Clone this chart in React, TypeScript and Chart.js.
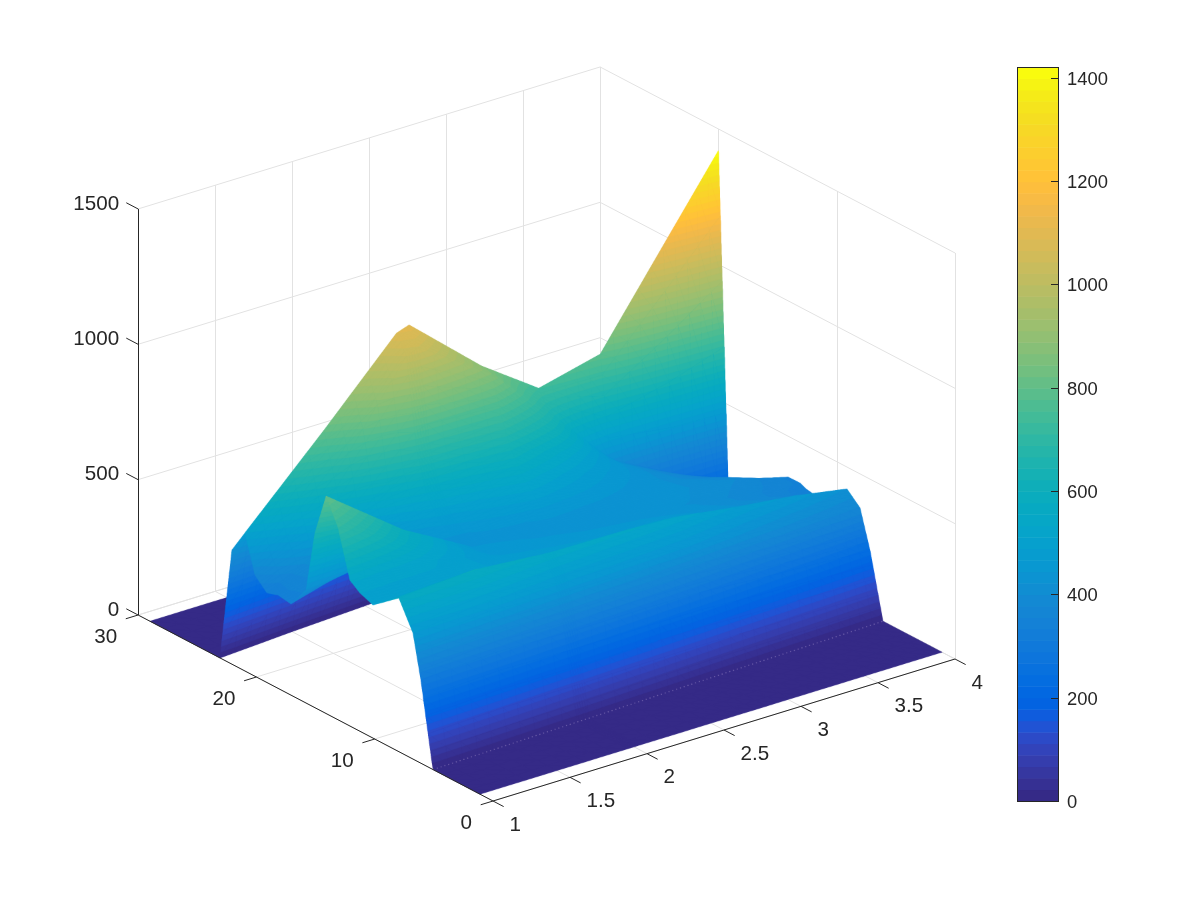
import React, { useEffect, useRef } from "react";
import { Chart, registerables } from "chart.js";

Chart.register(...registerables);

// ---------- data (surface sampled on a bent grid: one row of y / z per column of x) ----------
const xColumns = [1, 1.5, 1.96, 2.04, 2.5, 2.86, 3.25, 3.65, 4];

const yRows = [
  [1.1, 1.1, 1.1, 1.1, 1.1, 1.1, 1.1, 1.1, 1.1],
  [5.07, 5.24, 5.4, 5.42, 5.58, 5.72, 5.85, 5.97, 6.09],
  [6.09, 6.27, 6.44, 6.46, 6.64, 6.78, 6.93, 7.05, 7.18],
  [6.76, 6.97, 7.17, 7.19, 7.4, 7.56, 7.73, 7.88, 8.03],
  [7.95, 8.15, 8.33, 8.35, 8.54, 8.7, 8.86, 8.99, 9.13],
  [10.14, 10.2, 10.26, 10.27, 10.32, 10.37, 10.42, 10.46, 10.5],
  [11.24, 11.37, 11.48, 11.5, 11.62, 11.72, 11.82, 11.91, 12],
  [12.09, 12.18, 12.25, 12.27, 12.35, 12.41, 12.48, 12.54, 12.6],
  [13.1, 13.1, 13.1, 13.1, 13.1, 13.1, 13.1, 13.1, 13.1],
  [14.1, 14.1, 14.1, 14.1, 14.1, 14.1, 14.1, 14.1, 14.1],
  [15.05, 15.08, 15.1, 15.1, 15.13, 15.14, 15.17, 15.18, 15.2],
  [15.8, 15.83, 15.86, 15.87, 15.9, 15.93, 15.95, 15.98, 16],
  [17.08, 17.07, 17.05, 17.05, 17.04, 17.03, 17.02, 17.01, 17],
  [18.17, 18.14, 18.11, 18.11, 18.09, 18.06, 18.04, 18.02, 18],
  [19.1, 19.02, 18.94, 18.92, 18.85, 18.78, 18.72, 18.66, 18.6],
  [20.12, 19.96, 19.82, 19.8, 19.65, 19.53, 19.41, 19.3, 19.19],
  [20.96, 20.8, 20.65, 20.63, 20.48, 20.35, 20.22, 20.11, 20],
  [22.06, 21.88, 21.72, 21.7, 21.53, 21.39, 21.25, 21.12, 21],
  [23.08, 23.5, 23.82, 23.88, 24.2, 24.4, 24.6, 24.8, 25],
  [29, 29, 29, 29, 29, 29, 29, 29, 29],
];

const zRows = [
  [0, 0, 0, 0, 0, 0, 0, 0, 0],
  [0, 0, 0, 0, 0, 0, 0, 0, 0],
  [307, 318, 304, 302, 297, 289, 268, 252, 235],
  [466, 492, 470, 467, 458, 446, 415, 389, 374],
  [568, 579, 552, 549, 539, 525, 488, 458, 419],
  [492, 500, 482, 478, 470, 470, 440, 405, 375],
  [511, 510, 472, 468, 455, 445, 425, 385, 335],
  [539, 520, 462, 458, 445, 435, 420, 385, 340],
  [712, 560, 452, 449, 440, 435, 425, 390, 350],
  [803, 591, 446, 444, 438, 435, 430, 400, 349],
  [645, 520, 432, 432, 448, 445, 430, 385, 317],
  [417, 450, 440, 442, 490, 465, 430, 365, 295],
  [337, 420, 475, 485, 550, 495, 435, 345, 275],
  [345, 430, 550, 570, 630, 545, 435, 325, 255],
  [331, 480, 690, 705, 735, 610, 430, 310, 240],
  [374, 650, 1020, 1040, 866, 665, 425, 305, 229],
  [510, 805, 1087, 1104, 875, 733, 794, 1127, 1419],
  [422, 600, 790, 800, 650, 550, 600, 800, 1000],
  [0, 0, 0, 0, 0, 0, 0, 0, 0],
  [0, 0, 0, 0, 0, 0, 0, 0, 0],
];

const xTicks = [1, 1.5, 2, 2.5, 3, 3.5, 4];
const yTicks = [0, 10, 20, 30];
const zTicks = [0, 500, 1000, 1500];
const colorbarTicks = [0, 200, 400, 600, 800, 1000, 1200, 1400];
const colorMax = 1421;

const parula: number[][] = [
  [0.2081, 0.1663, 0.5292], [0.2116, 0.1898, 0.5777], [0.2123, 0.2138, 0.627], [0.2081, 0.2386, 0.6771],
  [0.1959, 0.2645, 0.7279], [0.1707, 0.2919, 0.7792], [0.1253, 0.3242, 0.8303], [0.0591, 0.3598, 0.8683],
  [0.0117, 0.3875, 0.882], [0.006, 0.4086, 0.8828], [0.0165, 0.4266, 0.8786], [0.0329, 0.443, 0.872],
  [0.0498, 0.4586, 0.8641], [0.0629, 0.4737, 0.8554], [0.0723, 0.4887, 0.8467], [0.0779, 0.504, 0.8384],
  [0.0793, 0.52, 0.8312], [0.0749, 0.5375, 0.8263], [0.0641, 0.557, 0.824], [0.0488, 0.5772, 0.8228],
  [0.0343, 0.5966, 0.8199], [0.0265, 0.6137, 0.8135], [0.0239, 0.6287, 0.8038], [0.0231, 0.6418, 0.7913],
  [0.0228, 0.6535, 0.7768], [0.0267, 0.6642, 0.7607], [0.0384, 0.6743, 0.7436], [0.059, 0.6838, 0.7254],
  [0.0843, 0.6928, 0.7062], [0.1133, 0.7015, 0.6859], [0.1453, 0.7098, 0.6646], [0.1801, 0.7177, 0.6424],
  [0.2178, 0.725, 0.6193], [0.2586, 0.7317, 0.5954], [0.3022, 0.7376, 0.5712], [0.3482, 0.7424, 0.5473],
  [0.3953, 0.7459, 0.5244], [0.442, 0.7481, 0.5033], [0.4871, 0.7491, 0.484], [0.53, 0.7491, 0.4661],
  [0.5709, 0.7485, 0.4494], [0.6099, 0.7473, 0.4337], [0.6473, 0.7456, 0.4188], [0.6834, 0.7435, 0.4044],
  [0.7184, 0.7411, 0.3905], [0.7525, 0.7384, 0.3768], [0.7858, 0.7356, 0.3633], [0.8185, 0.7327, 0.3498],
  [0.8507, 0.7299, 0.336], [0.8824, 0.7274, 0.3217], [0.9139, 0.7258, 0.3063], [0.945, 0.7261, 0.2886],
  [0.9739, 0.7314, 0.2666], [0.9938, 0.7455, 0.2403], [0.999, 0.7653, 0.2164], [0.9955, 0.7861, 0.1967],
  [0.988, 0.8066, 0.1794], [0.9789, 0.8271, 0.1633], [0.9697, 0.8481, 0.1475], [0.9626, 0.8705, 0.1309],
  [0.9589, 0.8949, 0.1132], [0.9598, 0.9218, 0.0948], [0.9661, 0.9514, 0.0755], [0.9763, 0.9831, 0.0538],
];

// ---------- view: orthographic projection onto a page-sized pair of linear scales ----------
const ORIGIN = { x: 493, y: 801 };
const EX = { x: 154, y: -47.33 }; // per x unit
const EY = { x: -11.83, y: -6.2 }; // per y unit
const EZ = -0.2707; // per z unit
const project = (x: number, y: number, z: number) => ({
  x: ORIGIN.x + (x - 1) * EX.x + y * EY.x,
  y: ORIGIN.y + (x - 1) * EX.y + y * EY.y + z * EZ,
});

const BAR = { left: 1017, right: 1058, top: 67, bottom: 801 };
const barY = (v: number) => BAR.bottom - (v / colorMax) * (BAR.bottom - BAR.top);

const rgbOf = (c: number[]) => `rgb(${Math.round(c[0] * 255)},${Math.round(c[1] * 255)},${Math.round(c[2] * 255)})`;

const GRID = "#e2e2e2";
const INK = "#262626";
const FONT_AXIS = '20.6px "Liberation Sans", Arial, sans-serif';
const FONT_BAR = '18.4px "Liberation Sans", Arial, sans-serif';

const lineDataset = (pts: { x: number; y: number }[], color: string, order: number) => {
  // verticals sit on the pixel grid so that they stay one pixel wide
  const vertical = Math.abs(pts[0].x - pts[1].x) < 0.01;
  const data = vertical ? pts.map((p) => ({ x: Math.round(p.x) + 0.5, y: p.y })) : pts;
  return {
    type: "line" as const,
    data,
    borderColor: color,
    borderWidth: 1,
    pointRadius: 0,
    order,
    fill: false,
    tension: 0,
  };
};

function buildLines() {
  const out: any[] = [];
  const g = (a: number[], b: number[]) =>
    out.push(lineDataset([project(a[0], a[1], a[2]), project(b[0], b[1], b[2])], GRID, 3));
  const zTop = zTicks[zTicks.length - 1];
  for (const x of xTicks) {
    g([x, 0, 0], [x, 30, 0]);
    g([x, 30, 0], [x, 30, zTop]);
  }
  for (const y of yTicks) {
    g([1, y, 0], [4, y, 0]);
    g([4, y, 0], [4, y, zTop]);
  }
  for (const z of zTicks) {
    g([1, 30, z], [4, 30, z]);
    g([4, 30, z], [4, 0, z]);
  }
  const a = (p: number[], q: number[]) =>
    out.push(lineDataset([project(p[0], p[1], p[2]), project(q[0], q[1], q[2])], INK, 1));
  a([1, 0, 0], [4, 0, 0]);
  a([1, 0, 0], [1, 30, 0]);
  a([1, 30, 0], [1, 30, zTop]);
  for (const x of xTicks) a([x, 0, 0], [x, -0.9, 0]);
  for (const y of yTicks) a([1, y, 0], [0.92, y, 0]);
  for (const z of zTicks) a([1, 30, z], [1, 31, z]);
  return out;
}

const surfacePoints = () => {
  const pts: any[] = [];
  yRows.forEach((row, r) =>
    row.forEach((y, c) => {
      const p = project(xColumns[c], y, zRows[r][c]);
      pts.push({ x: p.x, y: p.y, z: zRows[r][c] });
    })
  );
  return pts;
};

type V = { x: number; y: number; z: number };

// Keep the part of a polygon above a z level
const clipAbove = (poly: V[], level: number): V[] => {
  const out: V[] = [];
  for (let i = 0; i < poly.length; i++) {
    const p = poly[i];
    const q = poly[(i + 1) % poly.length];
    const pIn = p.z >= level;
    const qIn = q.z >= level;
    if (pIn) out.push(p);
    if (pIn !== qIn) {
      const t = (level - p.z) / (q.z - p.z);
      out.push({ x: p.x + (q.x - p.x) * t, y: p.y + (q.y - p.y) * t, z: level });
    }
  }
  return out;
};

const SUB = 5;
const SS = 3; // the sheet is painted oversampled and scaled down, which keeps facet joints invisible

const surfacePlugin = {
  id: "surfacePlugin",
  afterDatasetDraw(chart: any, args: any) {
    const ds = chart.data.datasets[args.index];
    if (!ds.isSurface) return;
    const sx = chart.scales.x;
    const sy = chart.scales.y;
    const nc = xColumns.length;
    const pts = ds.data;
    const at = (r: number, c: number) => pts[r * nc + c];
    const step = colorMax / 64;

    const off = document.createElement("canvas");
    off.width = chart.width * SS;
    off.height = chart.height * SS;
    const oc = off.getContext("2d") as CanvasRenderingContext2D;
    oc.scale(SS, SS);
    oc.lineWidth = 0.5;
    oc.lineJoin = "round";

    const paint = (tri: V[]) => {
      const zs = tri.map((p) => p.z);
      const lo = Math.max(0, Math.floor(Math.min(...zs) / step));
      const hi = Math.min(63, Math.floor(Math.max(...zs) / step));
      for (let i = lo; i <= hi; i++) {
        const poly = i === lo ? tri : clipAbove(tri, i * step);
        if (poly.length < 3) continue;
        const col = rgbOf(parula[i]);
        oc.fillStyle = col;
        oc.strokeStyle = col;
        oc.beginPath();
        poly.forEach((p, k) => {
          const px = sx.getPixelForValue(p.x);
          const py = sy.getPixelForValue(p.y);
          if (k === 0) oc.moveTo(px, py);
          else oc.lineTo(px, py);
        });
        oc.closePath();
        oc.fill();
        oc.stroke();
      }
    };

    for (let r = yRows.length - 2; r >= 0; r--) {
      for (let c = nc - 2; c >= 0; c--) {
        const a = at(r, c), b = at(r, c + 1), d = at(r + 1, c), e = at(r + 1, c + 1);
        const blend = (u: number, v: number): V => ({
          x: (1 - v) * ((1 - u) * a.x + u * b.x) + v * ((1 - u) * d.x + u * e.x),
          y: (1 - v) * ((1 - u) * a.y + u * b.y) + v * ((1 - u) * d.y + u * e.y),
          z: (1 - v) * ((1 - u) * a.z + u * b.z) + v * ((1 - u) * d.z + u * e.z),
        });
        for (let j = SUB - 1; j >= 0; j--) {
          for (let i = SUB - 1; i >= 0; i--) {
            const p0 = blend(i / SUB, j / SUB);
            const p1 = blend((i + 1) / SUB, j / SUB);
            const p2 = blend((i + 1) / SUB, (j + 1) / SUB);
            const p3 = blend(i / SUB, (j + 1) / SUB);
            paint([p1, p2, p3]);
            paint([p0, p1, p3]);
          }
        }
      }
    }
    // faint seam along the row where the front wall leaves the floor
    oc.strokeStyle = "rgba(190,170,220,0.5)";
    oc.lineWidth = 1;
    oc.setLineDash([1, 3]);
    oc.beginPath();
    for (let c = 0; c < nc; c++) {
      const p = at(1, c);
      const px = sx.getPixelForValue(p.x);
      const py = sy.getPixelForValue(p.y);
      if (c === 0) oc.moveTo(px, py);
      else oc.lineTo(px, py);
    }
    oc.stroke();

    const ctx = chart.ctx;
    ctx.save();
    ctx.imageSmoothingEnabled = true;
    ctx.imageSmoothingQuality = "high";
    ctx.drawImage(off, 0, 0, chart.width, chart.height);
    ctx.restore();
  },
  afterDraw(chart: any) {
    const ctx = chart.ctx;
    const sx = chart.scales.x;
    const sy = chart.scales.y;
    ctx.save();
    // colour bar
    for (let i = 0; i < 64; i++) {
      const v0 = (i / 64) * colorMax;
      const v1 = ((i + 1) / 64) * colorMax;
      const top = sy.getPixelForValue(barY(v1));
      const bot = sy.getPixelForValue(barY(v0));
      ctx.fillStyle = rgbOf(parula[i]);
      ctx.fillRect(sx.getPixelForValue(BAR.left), top, BAR.right - BAR.left, bot - top + 0.5);
    }
    ctx.strokeStyle = INK;
    ctx.lineWidth = 1;
    ctx.strokeRect(BAR.left + 0.5, BAR.top + 0.5, BAR.right - BAR.left, BAR.bottom - BAR.top);
    ctx.fillStyle = INK;
    ctx.font = FONT_BAR;
    ctx.textAlign = "left";
    ctx.textBaseline = "middle";
    for (const v of colorbarTicks) {
      const y = Math.round(sy.getPixelForValue(barY(v))) + 0.5;
      ctx.beginPath();
      ctx.moveTo(BAR.right - 7, y);
      ctx.lineTo(BAR.right, y);
      ctx.stroke();
      ctx.fillText(String(v), BAR.right + 9, y + 1);
    }
    // axis tick labels
    ctx.font = FONT_AXIS;
    ctx.textBaseline = "middle";
    ctx.textAlign = "right";
    for (const z of zTicks) {
      const p = project(1, 30, z);
      ctx.fillText(String(z), sx.getPixelForValue(p.x) - 19, sy.getPixelForValue(p.y) - 5);
    }
    for (const y of yTicks) {
      const p = project(1, y, 0);
      ctx.fillText(String(y), sx.getPixelForValue(p.x) - 21, sy.getPixelForValue(p.y) + 22);
    }
    ctx.textAlign = "left";
    for (const x of xTicks) {
      const p = project(x, 0, 0);
      ctx.fillText(String(x), sx.getPixelForValue(p.x) + 16.5, sy.getPixelForValue(p.y) + 24);
    }
    ctx.restore();
  },
};

export default function App() {
  const ref = useRef<HTMLCanvasElement | null>(null);
  useEffect(() => {
    if (!ref.current) return;
    const chart = new Chart(ref.current, {
      type: "scatter",
      data: {
        datasets: [
          ...buildLines(),
          {
            type: "scatter",
            isSurface: true,
            label: "surface",
            data: surfacePoints(),
            pointRadius: 0,
            showLine: false,
            order: 2,
          },
        ] as any,
      },
      options: {
        responsive: false,
        animation: false,
        layout: { padding: 0 },
        plugins: { legend: { display: false }, tooltip: { enabled: false } },
        events: [],
        scales: {
          x: { type: "linear", min: 0, max: 1200, display: false },
          y: { type: "linear", min: 0, max: 900, reverse: true, display: false },
        },
      } as any,
      plugins: [surfacePlugin],
    });
    return () => chart.destroy();
  }, []);
  return (
    <div style={{ position: "absolute", left: 0, top: 0, width: 1200, height: 900, background: "#fff" }}>
      <canvas ref={ref} width={1200} height={900} style={{ display: "block" }} />
    </div>
  );
}
